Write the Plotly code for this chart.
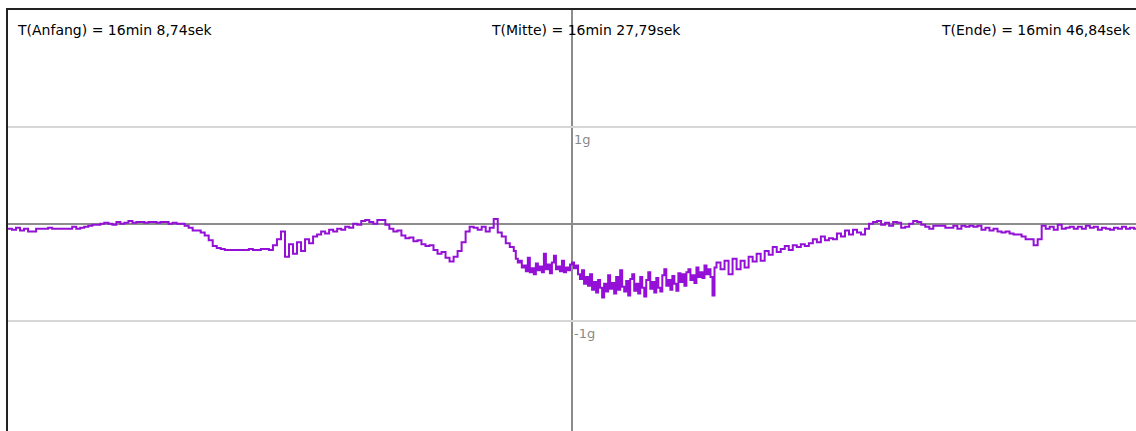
import plotly.graph_objects as go

# --- data ---------------------------------------------------------------
t_start = 968.74   # 16 min 8,74 s
t_mid = 987.79     # 16 min 27,79 s
t_end = 1006.84    # 16 min 46,84 s

title_left = "T(Anfang) = 16min 8,74sek"
title_mid = "T(Mitte) = 16min 27,79sek"
title_right = "T(Ende) = 16min 46,84sek"

g_ticks = [-1, 1]
g_tick_labels = ["-1g", "1g"]

# acceleration in g (coarse sampling, start .. just before the noisy middle)
acc_start = [-0.05, -0.06, -0.04, -0.07, -0.05, -0.08, -0.08, -0.05, -0.05, -0.05, -0.04,
             -0.05, -0.05, -0.05, -0.05, -0.05, -0.03, -0.05, -0.04, -0.03, -0.02, -0.01,
             -0.01, 0.0, 0.01, 0.0, -0.01, 0.02, 0.0, 0.01, 0.03, 0.01, 0.02, 0.02, 0.01,
             0.02, 0.02, 0.01, 0.02, 0.02, 0.0, 0.01, 0.0, 0.0]
acc_dip = [-0.02, -0.04, -0.07, -0.07, -0.09, -0.12, -0.17, -0.23, -0.25, -0.26, -0.27,
           -0.27, -0.27, -0.27, -0.27, -0.27, -0.26, -0.27, -0.27, -0.26, -0.26, -0.27, -0.22]
acc_hump = [-0.16, -0.08, -0.34, -0.21, -0.31, -0.19, -0.28, -0.16, -0.20, -0.13, -0.11,
            -0.08, -0.10, -0.06, -0.08, -0.05, -0.06, -0.03, -0.04, 0.0, -0.01, 0.03, 0.04,
            0.02, 0.0, 0.04, 0.04, -0.01, -0.05, -0.08, -0.07, -0.12, -0.15, -0.14, -0.18,
            -0.17, -0.21, -0.23, -0.22, -0.27, -0.31, -0.29, -0.35, -0.39, -0.34, -0.28,
            -0.19, -0.08, -0.03, -0.04, -0.06, -0.03, -0.08, -0.04, 0.05, -0.09,
            -0.13, -0.20, -0.24, -0.28]
# noisy middle, sampled twice as densely
acc_noisy = [-0.36, -0.40, -0.38, -0.45, -0.43, -0.49, -0.35, -0.50, -0.46, -0.52,
             -0.41, -0.48, -0.44, -0.50, -0.31, -0.47, -0.42, -0.51, -0.40, -0.33,
             -0.47, -0.44, -0.49, -0.38, -0.50, -0.45, -0.48, -0.42, -0.40, -0.46,
             -0.43, -0.52, -0.57, -0.48, -0.62, -0.55, -0.64, -0.52, -0.68, -0.60,
             -0.71, -0.58, -0.66, -0.76, -0.62, -0.70, -0.53, -0.67, -0.61, -0.72,
             -0.55, -0.68, -0.48, -0.65, -0.70, -0.59, -0.74, -0.57, -0.52, -0.69,
             -0.62, -0.72, -0.55, -0.66, -0.75, -0.58, -0.50, -0.67, -0.60, -0.71,
             -0.56, -0.66, -0.70, -0.53, -0.47, -0.64, -0.58, -0.68, -0.54, -0.62,
             -0.69, -0.51, -0.60, -0.52, -0.64, -0.50, -0.47, -0.58, -0.53, -0.61,
             -0.45, -0.55, -0.50, -0.56, -0.43, -0.52, -0.47, -0.55, -0.74, -0.45,
             -0.40]
# coarse sampling again, recovery to the end
acc_rise = [-0.47, -0.38, -0.52, -0.36, -0.47, -0.38, -0.45, -0.34, -0.39, -0.31, -0.38,
            -0.28, -0.32, -0.24, -0.29, -0.26, -0.23, -0.27, -0.22, -0.24, -0.21, -0.23, -0.20,
            -0.16, -0.19, -0.13, -0.17, -0.15, -0.16, -0.10, -0.13, -0.07, -0.11, -0.06,
            -0.09, -0.11, -0.05, 0.0, 0.02, 0.03, -0.01, 0.01, -0.02, 0.02, 0.01, -0.04,
            -0.03, 0.0, 0.03, 0.02, -0.01, -0.03, -0.05, -0.02, -0.02, -0.02, -0.04, -0.04]
acc_end = [-0.02, -0.05, -0.02, -0.03, -0.02, -0.03, -0.02, -0.06, -0.04, -0.07, -0.05,
           -0.08, -0.09, -0.08, -0.10, -0.11, -0.11, -0.13, -0.16, -0.16, -0.22, -0.16,
           -0.02, -0.05, -0.03, -0.06, -0.01, -0.05, -0.04, -0.03, -0.05, -0.03, -0.05,
           -0.02, -0.04, -0.03, -0.06, -0.04, -0.05, -0.06, -0.04, -0.05, -0.03, -0.05,
           -0.04, -0.05, -0.04]

coarse_a = acc_start + acc_dip + acc_hump
coarse_b = acc_rise + acc_end
n_coarse_steps = len(coarse_a) + len(coarse_b) + len(acc_noisy) // 2 - 1
dt = (t_end - t_start) / n_coarse_steps

times, acc = [], []
t = t_start
for v in coarse_a:
    times.append(t); acc.append(v); t += dt
t -= dt / 2
for v in acc_noisy:
    times.append(t); acc.append(v); t += dt / 2
t += dt / 2
for v in coarse_b:
    times.append(t); acc.append(v); t += dt

# --- figure -------------------------------------------------------------
fig = go.Figure()
fig.add_trace(go.Scatter(
    x=times, y=acc, mode="lines", line=dict(color="#9410D6", width=2, shape="hv"),
    hoverinfo="skip", showlegend=False,
))

fig.update_layout(
    width=1136, height=431,
    margin=dict(l=8, r=0, t=10, b=0),
    paper_bgcolor="white", plot_bgcolor="white",
    font=dict(family="DejaVu Sans", size=13, color="#000"),
    xaxis=dict(
        range=[t_start, t_end], side="top",
        showline=True, linecolor="#222", linewidth=1.5,
        tickvals=[t_mid], showticklabels=False, ticks="",
        showgrid=True, gridcolor="#8c8c8c", gridwidth=1.5, zeroline=False,
    ),
    yaxis=dict(
        range=[-2.14, 2.209],
        showline=True, linecolor="#222", linewidth=1.5,
        tickvals=g_ticks, showticklabels=False, ticks="",
        showgrid=True, gridcolor="#d6d6d6", gridwidth=1.5,
        zeroline=True, zerolinecolor="#8c8c8c", zerolinewidth=2,
    ),
)

annotations = [
    dict(text=title_left, x=0.0062, xanchor="left"),
    dict(text=title_mid, x=0.4265, xanchor="left"),
    dict(text=title_right, x=0.9974, xanchor="right"),
]
for a in annotations:
    fig.add_annotation(xref="paper", yref="paper", y=0.9525, yanchor="middle",
                       showarrow=False, font=dict(family="DejaVu Sans", size=14, color="#000"),
                       **a)

for val, lab in zip(g_ticks, g_tick_labels):
    fig.add_annotation(x=t_mid, y=val, xref="x", yref="y", text=lab, showarrow=False,
                       xanchor="left", yanchor="top", xshift=0, yshift=-3,
                       font=dict(family="DejaVu Sans", size=13, color="#8a8a8a"))

fig.write_html("out.html")
